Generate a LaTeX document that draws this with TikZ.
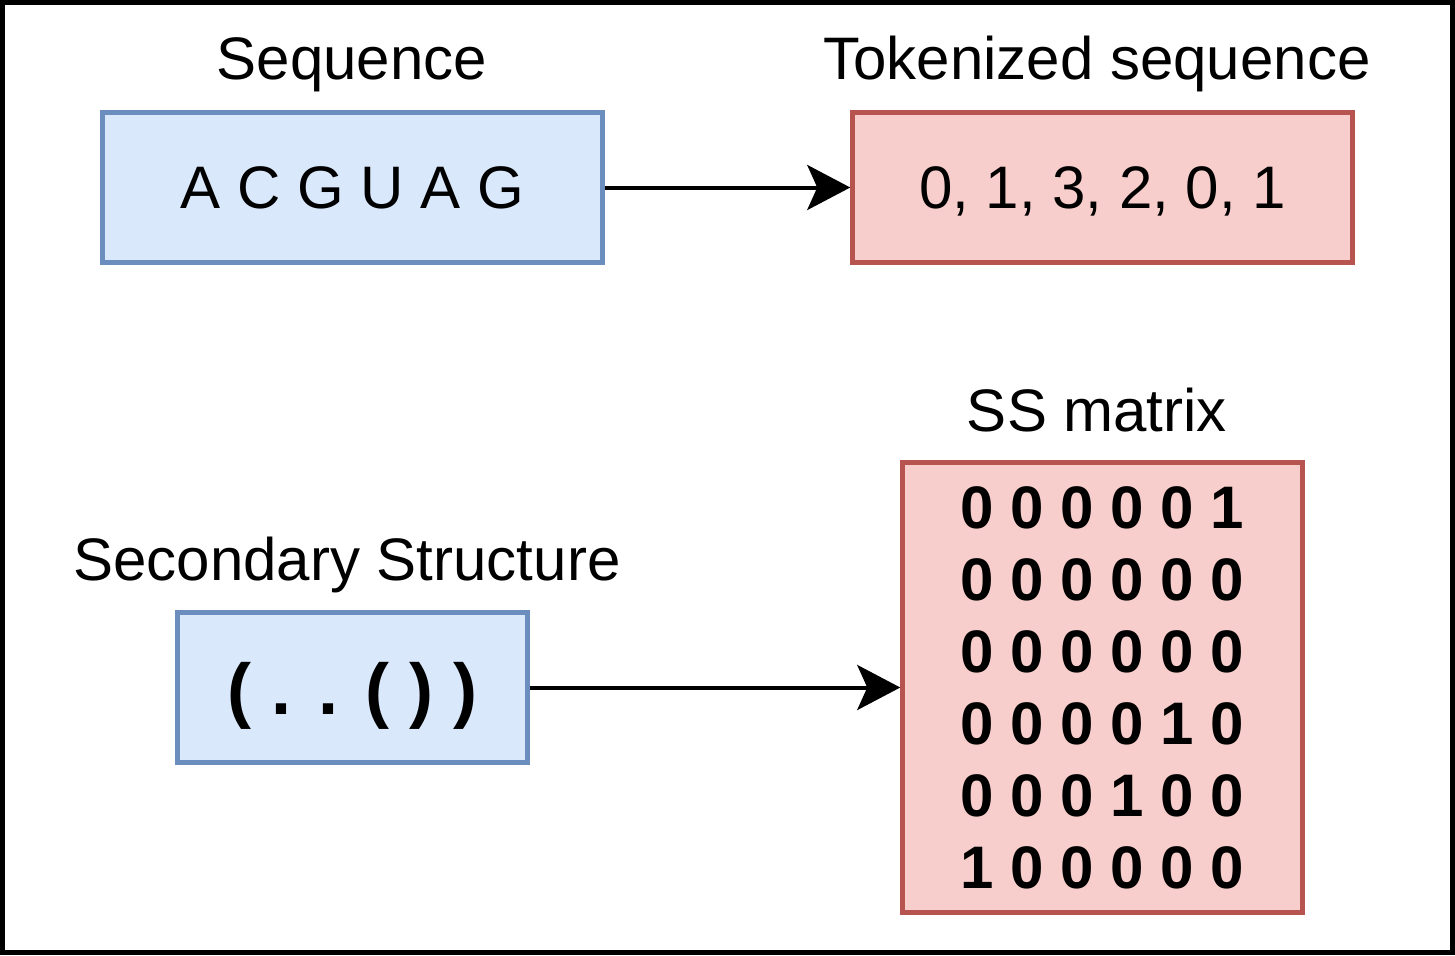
\documentclass[tikz,border=0pt]{standalone}
\usepackage{fontspec}
\setmainfont{Liberation Sans}
\usetikzlibrary{arrows.meta}
\definecolor{bluefill}{HTML}{DAE8FC}
\definecolor{bluedraw}{HTML}{6C8EBF}
\definecolor{redfill}{HTML}{F8CECC}
\definecolor{reddraw}{HTML}{B85450}
\tikzset{
  bluebox/.style={draw=bluedraw, fill=bluefill, line width=4.5pt, rectangle, inner sep=0pt},
  redbox/.style={draw=reddraw, fill=redfill, line width=4.5pt, rectangle, inner sep=0pt},
  title/.style={anchor=base, inner sep=0pt, font=\fontsize{60}{72}\selectfont},
  conn/.style={line width=4pt, -{Stealth[length=43pt, width=45pt, inset=10pt]}},
}
\begin{document}
\begin{tikzpicture}[x=1pt, y=-1pt]
\useasboundingbox (0,0) rectangle (1455,955);
\draw[line width=5pt] (2.5,2.5) rectangle (1452.5,952.5);
% titles
\node[title] (tseq) at (352,80) {Sequence};
\node[title] (ttok) at (1097,80) {Tokenized sequence};
\node[title] (tmat) at (1097,431) {SS matrix};
\node[title] (tss) at (347,580) {Secondary Structure};
% boxes
\node[bluebox, minimum width=500pt, minimum height=150pt, text depth=0pt,
      font=\fontsize{60}{72}\selectfont] (seq) at (352.5,187.5) {A C G U A G};
\node[redbox, minimum width=500pt, minimum height=150pt, text depth=0pt,
      font=\fontsize{60}{72}\selectfont] (tok) at (1102.5,187.5) {0, 1, 3, 2, 0, 1};
\node[bluebox, minimum width=350pt, minimum height=150pt, text height=68pt, text depth=15pt,
      font=\fontsize{72}{86}\selectfont\bfseries] (ss) at (352.5,687.5) {( . . ( ) )};
\node[redbox, minimum width=400pt, minimum height=450pt, align=center,
      font=\fontsize{60}{72}\selectfont\bfseries] (mat) at (1102.5,687.5)
  {0 0 0 0 0 1\\0 0 0 0 0 0\\0 0 0 0 0 0\\0 0 0 0 1 0\\0 0 0 1 0 0\\1 0 0 0 0 0};
% connectors
\draw[conn] (seq.east) -- (tok.west);
\draw[conn] (ss.east) -- (mat.west);
\end{tikzpicture}
\end{document}
